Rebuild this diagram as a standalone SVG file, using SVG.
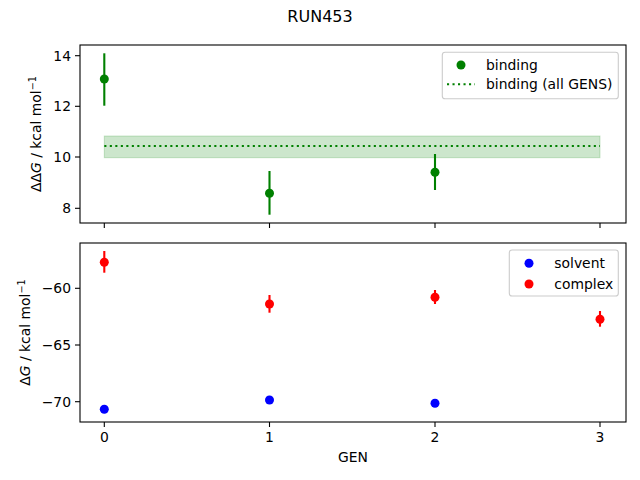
<svg xmlns="http://www.w3.org/2000/svg" width="640" height="480" viewBox="0 0 640 480">
<style>
text{font-family:"DejaVu Sans",sans-serif;font-size:13.9px;fill:#000}
.spine{fill:none;stroke:#000;stroke-width:1.1}
.tick{stroke:#000;stroke-width:1.1}
.eg{stroke:#008000;stroke-width:2.1}
.er{stroke:#ff0000;stroke-width:2.1}
.leg{fill:#fff;fill-opacity:0.8;stroke:#cccccc;stroke-width:1.1}
circle{r:4.5px}
</style>
<rect width="640" height="480" fill="#fff"/>
<text x="320" y="22" text-anchor="middle" style="font-size:16px">RUN453</text>

<g id="top-axes">
<rect x="104.3" y="136" width="495.7" height="21.7" fill="#008000" fill-opacity="0.2" stroke="#008000" stroke-opacity="0.2" stroke-width="1"/>
<line x1="104.3" y1="146" x2="600" y2="146" stroke="#008000" stroke-width="2.1" stroke-dasharray="2.1,3.4"/>
<line class="eg" x1="104.3" y1="53.3" x2="104.3" y2="105.7"/>
<circle cx="104.3" cy="79" r="4.5" fill="#008000"/>
<line class="eg" x1="269.5" y1="171" x2="269.5" y2="214.7"/>
<circle cx="269.5" cy="193.3" r="4.5" fill="#008000"/>
<line class="eg" x1="435" y1="154" x2="435" y2="190"/>
<circle cx="435" cy="172.3" r="4.5" fill="#008000"/>
<rect class="spine" x="80" y="45" width="546" height="178"/>
<g class="tick">
<line x1="104.3" y1="223" x2="104.3" y2="228"/><line x1="269.5" y1="223" x2="269.5" y2="228"/><line x1="435" y1="223" x2="435" y2="228"/><line x1="600" y1="223" x2="600" y2="228"/>
<line x1="75" y1="55.7" x2="80" y2="55.7"/><line x1="75" y1="106.3" x2="80" y2="106.3"/><line x1="75" y1="157" x2="80" y2="157"/><line x1="75" y1="208.3" x2="80" y2="208.3"/>
</g>
<g text-anchor="end">
<text x="71" y="60.7">14</text><text x="71" y="111.3">12</text><text x="71" y="162">10</text><text x="71" y="213.3">8</text>
</g>
<text transform="translate(41,134) rotate(-90)" text-anchor="middle">ΔΔ<tspan font-style="italic">G</tspan> / kcal mol<tspan dy="-5" style="font-size:9.7px">−1</tspan></text>
<g id="legend-top">
<rect class="leg" x="442.3" y="52.3" width="176" height="46.4" rx="2.8"/>
<circle cx="461" cy="65" r="4.5" fill="#008000"/>
<line x1="447" y1="84.3" x2="475" y2="84.3" stroke="#008000" stroke-width="2.1" stroke-dasharray="2.1,3.4"/>
<text x="486" y="70">binding</text>
<text x="486" y="89.3">binding (all GENS)</text>
</g>
</g>

<g id="bottom-axes">
<line class="er" x1="104.3" y1="251" x2="104.3" y2="272.7"/>
<circle cx="104.3" cy="262.3" r="4.5" fill="#ff0000"/>
<line class="er" x1="269.5" y1="295" x2="269.5" y2="312.7"/>
<circle cx="269.5" cy="304" r="4.5" fill="#ff0000"/>
<line class="er" x1="435" y1="290" x2="435" y2="304"/>
<circle cx="435" cy="297.3" r="4.5" fill="#ff0000"/>
<line class="er" x1="600" y1="311" x2="600" y2="326.7"/>
<circle cx="600" cy="319.3" r="4.5" fill="#ff0000"/>
<circle cx="104.3" cy="409.3" r="4.5" fill="#0000ff"/>
<circle cx="269.5" cy="400" r="4.5" fill="#0000ff"/>
<circle cx="435" cy="403.3" r="4.5" fill="#0000ff"/>
<rect class="spine" x="80" y="243" width="546" height="179"/>
<g class="tick">
<line x1="104.3" y1="422" x2="104.3" y2="427"/><line x1="269.5" y1="422" x2="269.5" y2="427"/><line x1="435" y1="422" x2="435" y2="427"/><line x1="600" y1="422" x2="600" y2="427"/>
<line x1="75" y1="288.3" x2="80" y2="288.3"/><line x1="75" y1="345" x2="80" y2="345"/><line x1="75" y1="401.7" x2="80" y2="401.7"/>
</g>
<g text-anchor="end">
<text x="71" y="293.3">−60</text><text x="71" y="350">−65</text><text x="71" y="406.7">−70</text>
</g>
<g text-anchor="middle">
<text x="104.3" y="442">0</text><text x="269.5" y="442">1</text><text x="435" y="442">2</text><text x="600" y="442">3</text>
<text x="353" y="462">GEN</text>
</g>
<text transform="translate(30,332.5) rotate(-90)" text-anchor="middle">Δ<tspan font-style="italic">G</tspan> / kcal mol<tspan dy="-5" style="font-size:9.7px">−1</tspan></text>
<g id="legend-bottom">
<rect class="leg" x="509.3" y="250" width="109" height="46" rx="2.8"/>
<circle cx="529" cy="263.3" r="4.5" fill="#0000ff"/>
<circle cx="529" cy="284" r="4.5" fill="#ff0000"/>
<text x="554.3" y="268.3">solvent</text>
<text x="554.3" y="289">complex</text>
</g>
</g>
</svg>
